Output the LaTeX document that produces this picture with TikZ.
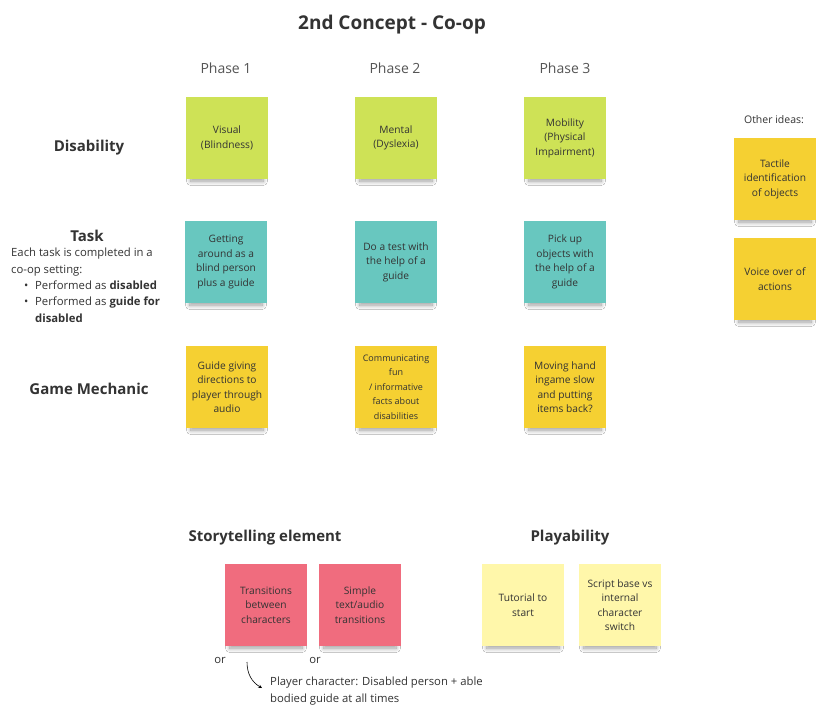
\documentclass[tikz,border=0pt]{standalone}
\usepackage{fontspec}
\setmainfont{Open Sans}
\usepackage{tikz}
\usetikzlibrary{arrows, shadows.blur, positioning}
\definecolor{mygreen}{RGB}{206,226,86}
\definecolor{myteal}{RGB}{104,199,191}
\definecolor{myyellow}{RGB}{245,208,50}
\definecolor{mypink}{RGB}{240,108,126}
\definecolor{mycream}{RGB}{255,247,170}
\definecolor{mytext}{RGB}{51,51,51}
\definecolor{myphase}{RGB}{85,85,85}
\tikzstyle{sticky}=[minimum size=82pt, inner sep=0pt, align=center,
text=mytext, font=\fontsize{10.2}{14.5}\selectfont,
blur shadow={shadow xshift=0pt, shadow yshift=-8pt, shadow scale=0.88,
shadow blur radius=5pt, shadow blur steps=12, shadow opacity=40}]
\tikzstyle{rowlabel}=[font=\fontsize{15}{18}\selectfont\bfseries, text=mytext]
\tikzstyle{phase}=[font=\fontsize{14}{17}\selectfont, text=myphase]
\tikzstyle{note}=[font=\fontsize{11.3}{16.4}\selectfont, text=mytext, inner sep=0pt]

\begin{document}
\begin{tikzpicture}[x=1pt, y=-1pt]
\useasboundingbox[fill=white] (0,0) rectangle (824,723);
\draw (392,25) node [font=\fontsize{19}{22}\selectfont\bfseries, text=mytext] (title) {2nd Concept - Co-op};
\draw (226,68) node [phase] (ph1) {Phase 1};
\draw (395,68) node [phase] (ph2) {Phase 2};
\draw (565,68) node [phase] (ph3) {Phase 3};
% rows
\draw (89,148) node [rowlabel] (disab) {Disability};
\draw (87,236) node [rowlabel] (task) {Task};
\draw (11,248) node [note, anchor=north west, align=left] (taskdesc)
{Each task is completed in a\\co-op setting:\\
\hspace*{13pt}\makebox[11pt][l]{\textbullet}Performed as \textbf{disabled}\\
\hspace*{13pt}\makebox[11pt][l]{\textbullet}Performed as \textbf{guide for}\\
\hspace*{24pt}\textbf{disabled}};
\draw (89,389) node [rowlabel] (mech) {Game Mechanic};
% disability stickies
\draw (227,138) node [sticky, fill=mygreen] (visual) {Visual\\(Blindness)};
\draw (396,138) node [sticky, fill=mygreen] (mental) {Mental\\(Dyslexia)};
\draw (565,138) node [sticky, fill=mygreen] (mobil) {Mobility\\(Physical\\Impairment)};
% task stickies
\draw (226,262) node [sticky, fill=myteal] (getting) {Getting\\around as a\\blind person\\plus a guide};
\draw (396,262) node [sticky, fill=myteal] (test) {Do a test with\\the help of a\\guide};
\draw (565,262) node [sticky, fill=myteal] (pickup) {Pick up\\objects with\\the help of a\\guide};
% mechanic stickies
\draw (227,387) node [sticky, fill=myyellow] (guidegiv) {Guide giving\\directions to\\player through\\audio};
\draw (396,387) node [sticky, fill=myyellow, font=\fontsize{9}{14.5}\selectfont] (commun) {Communicating\\fun\\/ informative\\facts about\\disabilities};
\draw (565,387) node [sticky, fill=myyellow] (moving) {Moving hand\\ingame slow\\and putting\\items back?};
% other ideas
\draw (774,120) node [font=\fontsize{10.5}{13}\selectfont, text=mytext] (other) {Other ideas:};
\draw (775,179) node [sticky, fill=myyellow] (tactile) {Tactile\\identification\\of objects};
\draw (775,279) node [sticky, fill=myyellow] (voice) {Voice over of\\actions};
% storytelling and playability
\draw (265,538) node [rowlabel] (story) {Storytelling element};
\draw (570,538) node [rowlabel] (play) {Playability};
\draw (266,605) node [sticky, fill=mypink] (trans) {Transitions\\between\\characters};
\draw (360,605) node [sticky, fill=mypink] (simple) {Simple\\text/audio\\transitions};
\draw (523,605) node [sticky, fill=mycream] (tutor) {Tutorial to\\start};
\draw (620,605) node [sticky, fill=mycream] (script) {Script base vs\\internal\\character\\switch};
\draw (220,660) node [note] (or1) {or};
\draw (315,660) node [note] (or2) {or};
\draw (270,691) node [note, anchor=west, align=left] (player)
{Player character: Disabled person + able\\bodied guide at all times};
\coordinate (arrstart) at (247,662);
\draw [-stealth, semithick, black] (arrstart) to [bend right=30] (262,688);
\end{tikzpicture}
\end{document}
